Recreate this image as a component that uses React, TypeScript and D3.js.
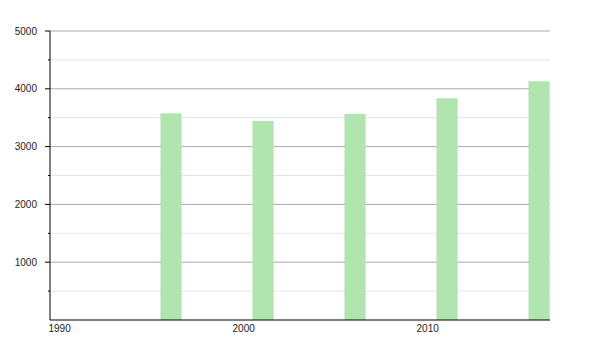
import React from "react";
import * as d3 from "d3";

const years = [1996, 2001, 2006, 2011, 2016];
const population = [3576, 3443, 3567, 3836, 4130];
const yTicks = [1000, 2000, 3000, 4000, 5000];
const yMinorTicks = [500, 1500, 2500, 3500, 4500];
const xTicks = [1990, 2000, 2010];

export default function App() {
  const width = 600;
  const height = 350;
  const left = 50;
  const right = 550;
  const top = 31;
  const bottom = 320;

  const x = d3.scaleLinear().domain([1990, 2017.17]).range([left, right]);
  const y = d3.scaleLinear().domain([0, 5000]).range([bottom, top]);
  const barW = x(1991.15) - x(1990);

  return (
    <svg
      width={width}
      height={height}
      style={{ position: "absolute", left: 0, top: 0, fontFamily: "Liberation Sans, Arial, sans-serif" }}
    >
      <rect x={0} y={0} width={width} height={height} fill="#fff" />
      {yMinorTicks.map((t) => (
        <g key={"m" + t}>
          <line x1={left} x2={right} y1={y(t)} y2={y(t)} stroke="#e4e4e4" strokeWidth={1} />
          <line x1={left - 2} x2={left} y1={y(t)} y2={y(t)} stroke="#000" strokeWidth={1} />
        </g>
      ))}
      {yTicks.map((t) => (
        <g key={"M" + t}>
          <line x1={left} x2={right} y1={y(t)} y2={y(t)} stroke="#aaaaaa" strokeWidth={1} />
          <line x1={left - 5} x2={left} y1={y(t)} y2={y(t)} stroke="#000" strokeWidth={1} />
          <text x={37} y={y(t)} dy="0.35em" textAnchor="end" fontSize={10} fill="#222">
            {t}
          </text>
        </g>
      ))}
      {years.map((yr, i) => (
        <rect
          key={yr}
          x={x(yr)}
          y={y(population[i])}
          width={barW}
          height={y(0) - y(population[i])}
          fill="#b0e5b0"
        />
      ))}
      <line x1={left} x2={left} y1={top} y2={bottom} stroke="#000" strokeWidth={1} />
      <line x1={left} x2={right} y1={bottom} y2={bottom} stroke="#000" strokeWidth={1.2} />
      {xTicks.map((t) => (
        <text key={t} x={x(t) - 1.5} y={332} textAnchor="start" fontSize={10} fill="#222">
          {t}
        </text>
      ))}
    </svg>
  );
}
